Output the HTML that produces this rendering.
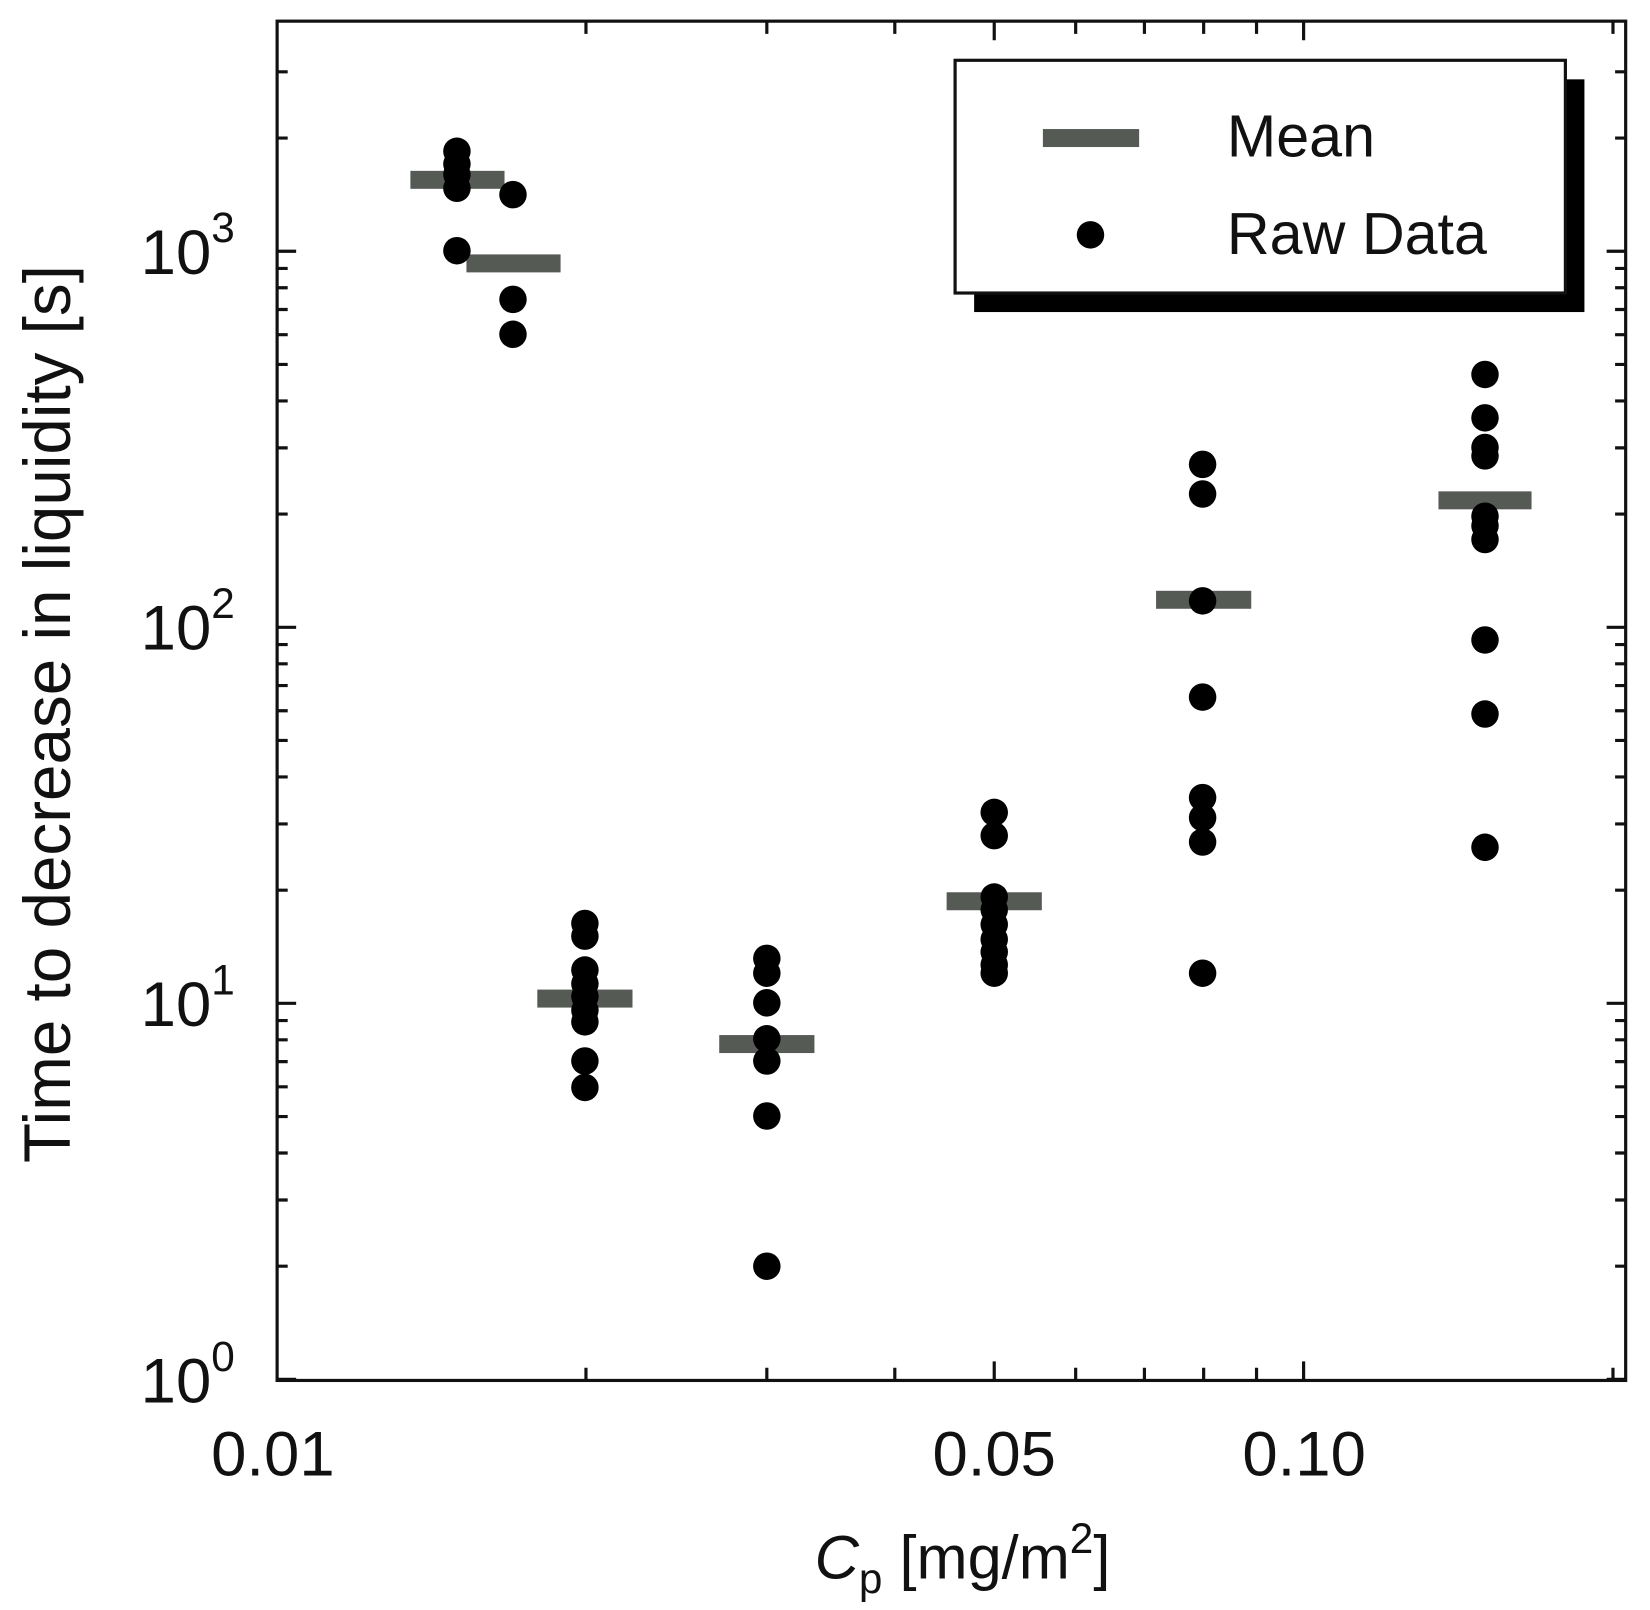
<!DOCTYPE html>
<html><head><meta charset="utf-8"><style>html,body{margin:0;padding:0;background:#fff}svg{display:block}</style></head>
<body>
<svg width="1650" height="1610" viewBox="0 0 1560 1522" preserveAspectRatio="none" xmlns="http://www.w3.org/2000/svg" font-family="Liberation Sans, Arial, sans-serif">
<rect x="0" y="0" width="1560" height="1522" fill="#fff"/>
<g stroke="#111" stroke-width="3" fill="none">
<path d="M262 1304h18M262 1197h10M262 1134.4h10M262 1090h10M262 1055.5h10M262 1027.4h10M262 1003.6h10M262 983h10M262 964.8h10
M262 948.5h18M262 841.5h10M262 778.9h10M262 734.5h10M262 700h10M262 671.9h10M262 648.1h10M262 627.5h10M262 609.3h10
M262 593h18M262 486h10M262 423.4h10M262 379h10M262 344.5h10M262 316.4h10M262 292.6h10M262 272h10M262 253.8h10
M262 237.5h18M262 130.5h10M262 67.9h10"/>
<path d="M1537 1304h-18M1537 1197h-10M1537 1134.4h-10M1537 1090h-10M1537 1055.5h-10M1537 1027.4h-10M1537 1003.6h-10M1537 983h-10M1537 964.8h-10
M1537 948.5h-18M1537 841.5h-10M1537 778.9h-10M1537 734.5h-10M1537 700h-10M1537 671.9h-10M1537 648.1h-10M1537 627.5h-10M1537 609.3h-10
M1537 593h-18M1537 486h-10M1537 423.4h-10M1537 379h-10M1537 344.5h-10M1537 316.4h-10M1537 292.6h-10M1537 272h-10M1537 253.8h-10
M1537 237.5h-18M1537 130.5h-10M1537 67.9h-10"/>
<path d="M554 1305v-12M725 1305v-12M846 1305v-12M940 1305v-18M1017 1305v-12M1082 1305v-12M1138 1305v-12M1188 1305v-12M1232.5 1305v-18M1525 1305v-12
M554 20v12M725 20v12M846 20v12M940 20v18M1017 20v12M1082 20v12M1138 20v12M1188 20v12M1232.5 20v18M1525 20v12"/>
</g>
<rect x="262" y="20" width="1275" height="1285" fill="none" stroke="#111" stroke-width="3"/>
<g fill="#555a55">
<rect x="388" y="161.5" width="89" height="17"/>
<rect x="441" y="240.5" width="89" height="17"/>
<rect x="508" y="935.5" width="90" height="17"/>
<rect x="680" y="978.5" width="90" height="17"/>
<rect x="895" y="843.5" width="90" height="17"/>
<rect x="1093" y="558.5" width="90" height="17"/>
<rect x="1360" y="464.5" width="88" height="17"/>
</g>
<g fill="#000">
<circle cx="432" cy="143" r="13"/><circle cx="432" cy="155" r="13"/><circle cx="432" cy="165" r="13"/><circle cx="432" cy="178" r="13"/><circle cx="432" cy="237" r="13"/>
<circle cx="485" cy="184" r="13"/><circle cx="485" cy="283" r="13"/><circle cx="485" cy="316" r="13"/>
<circle cx="553" cy="873" r="13"/><circle cx="553" cy="885" r="13"/><circle cx="553" cy="917" r="13"/><circle cx="553" cy="930" r="13"/><circle cx="553" cy="942" r="13"/><circle cx="553" cy="955" r="13"/><circle cx="553" cy="966" r="13"/><circle cx="553" cy="1003" r="13"/><circle cx="553" cy="1028" r="13"/>
<circle cx="725" cy="906" r="13"/><circle cx="725" cy="920" r="13"/><circle cx="725" cy="948" r="13"/><circle cx="725" cy="982" r="13"/><circle cx="725" cy="1003" r="13"/><circle cx="725" cy="1055" r="13"/><circle cx="725" cy="1197" r="13"/>
<circle cx="940" cy="768" r="13"/><circle cx="940" cy="790" r="13"/><circle cx="940" cy="848" r="13"/><circle cx="940" cy="860" r="13"/><circle cx="940" cy="874" r="13"/><circle cx="940" cy="888" r="13"/><circle cx="940" cy="900" r="13"/><circle cx="940" cy="912" r="13"/><circle cx="940" cy="920" r="13"/>
<circle cx="1137" cy="439" r="13"/><circle cx="1137" cy="467" r="13"/><circle cx="1137" cy="568" r="13"/><circle cx="1137" cy="659" r="13"/><circle cx="1137" cy="754" r="13"/><circle cx="1137" cy="773" r="13"/><circle cx="1137" cy="796" r="13"/><circle cx="1137" cy="920" r="13"/>
<circle cx="1404" cy="354" r="13"/><circle cx="1404" cy="395" r="13"/><circle cx="1404" cy="423" r="13"/><circle cx="1404" cy="431" r="13"/><circle cx="1404" cy="488" r="13"/><circle cx="1404" cy="497" r="13"/><circle cx="1404" cy="510" r="13"/><circle cx="1404" cy="605" r="13"/><circle cx="1404" cy="675" r="13"/><circle cx="1404" cy="801" r="13"/>
</g>
<!-- legend -->
<rect x="921" y="75" width="577" height="220" fill="#000"/>
<rect x="903" y="57" width="577" height="220" fill="#fff" stroke="#111" stroke-width="3"/>
<rect x="986" y="122" width="91" height="17" fill="#555a55"/>
<circle cx="1031" cy="222" r="13" fill="#000"/>
<text x="1160" y="148" font-size="56" fill="#111">Mean</text>
<text x="1160" y="240" font-size="56" fill="#111">Raw Data</text>
<g font-size="60" fill="#111" text-anchor="end">
<text x="222" y="259">10<tspan dy="-30" font-size="40">3</tspan></text>
<text x="222" y="614">10<tspan dy="-30" font-size="40">2</tspan></text>
<text x="222" y="970">10<tspan dy="-30" font-size="40">1</tspan></text>
<text x="222" y="1326">10<tspan dy="-30" font-size="40">0</tspan></text>
</g>
<g font-size="60" fill="#111" text-anchor="middle">
<text x="258" y="1395">0.01</text>
<text x="940" y="1395">0.05</text>
<text x="1233" y="1395">0.10</text>
</g>
<text x="910" y="1492" font-size="58" fill="#111" text-anchor="middle"><tspan font-style="italic">C</tspan><tspan font-size="40" dy="14">p</tspan><tspan dy="-14"> [mg/m</tspan><tspan font-size="40" dy="-24">2</tspan><tspan dy="24">]</tspan></text>
<text transform="translate(66,675) rotate(-90)" font-size="62" fill="#111" text-anchor="middle">Time to decrease in liquidity [s]</text>
</svg>
</body></html>
